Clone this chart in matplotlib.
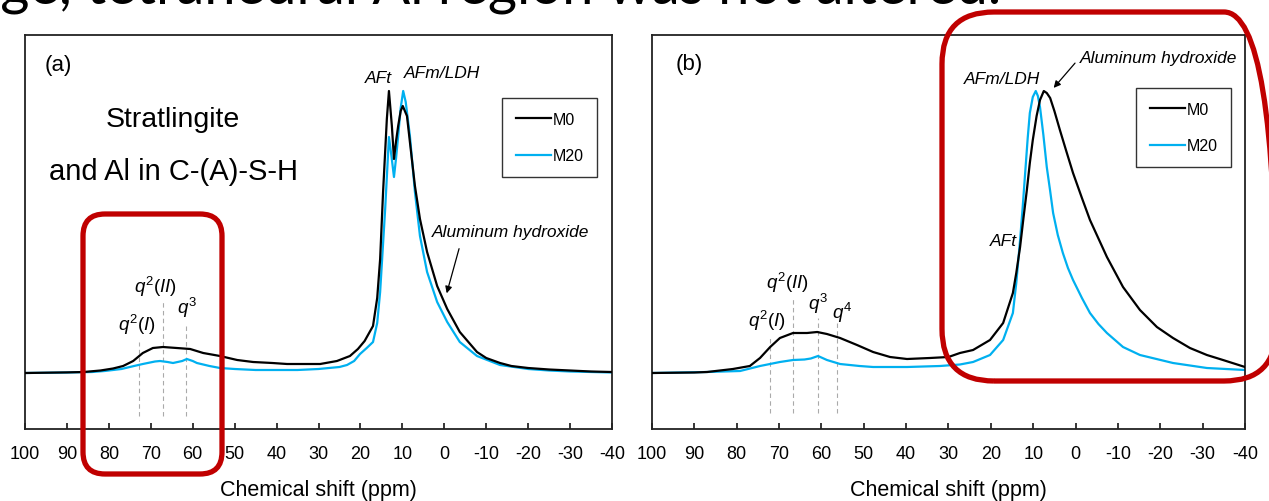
import matplotlib
matplotlib.use("Agg")
import matplotlib.pyplot as plt
from matplotlib.patches import FancyBboxPatch

# ---------------- data ----------------
xticks = [100, 90, 80, 70, 60, 50, 40, 30, 20, 10, 0, -10, -20, -30, -40]
xtick_labels = ["100", "90", "80", "70", "60", "50", "40", "30", "20", "10", "0",
                "-10", "-20", "-30", "-40"]

a_m0_ppm = [100, 95, 90, 86, 82, 79, 76.6, 74.2, 71.9, 69.5, 67.1, 63.8, 60.6, 57.5, 53.5,
            49.4, 45.6, 41, 37.5, 33, 29.6, 25.6, 22.5, 20.6, 19, 17, 16, 15.3, 14.6, 13.7,
            13.2, 12.5, 12.0, 11.5, 11.0, 10.4, 9.9, 8.9, 8.2, 7.0, 5.8, 4.1, 1.7, -0.7,
            -3.7, -7.8, -10, -13.3, -16, -20, -25, -30, -35, -40]
a_m0_int = [0, 0.3, 0.6, 1, 2.5, 4.5, 7, 12, 20, 25, 26, 25, 24, 20, 17,
            13, 11, 10, 9, 9, 9, 12, 17, 24, 32, 47, 75, 114, 181, 254,
            282, 247, 214, 232, 247, 262, 267, 257, 231, 187, 154, 121, 87, 64,
            41, 21, 15, 10, 7, 5, 3.5, 2.5, 1.5, 1]

a_m20_ppm = [100, 90, 84, 81, 77, 74, 71.9, 69, 67.8, 66, 64.7, 62.5, 61.4, 60, 59, 56,
             53.5, 50, 45, 40, 35, 30, 25, 23.2, 21.5, 20.1, 18.5, 17, 16, 15.3, 14.1,
             13.2, 12.6, 12.0, 11.5, 11.0, 10.4, 9.8, 9.2, 8.2, 7.0, 5.8, 4.1, 1.7, -0.7,
             -3.7, -7.8, -13.3, -20, -25, -30, -35, -40]
a_m20_int = [0, 0.5, 1, 2, 4, 7, 9, 11.5, 12, 11, 10, 12, 14, 12, 10, 7,
             5, 4, 3, 3, 3, 4, 6, 8, 12, 19, 25, 31, 50, 81, 164,
             236, 217, 196, 215, 237, 265, 282, 271, 237, 181, 137, 101, 71, 51,
             31, 17, 8, 4, 2.5, 1.5, 1, 0.5]

b_m0_ppm = [100, 90, 87, 80.9, 76.9, 74.5, 72.1, 69.8, 66.7, 63.4, 61, 58.7, 55.6, 51.6,
            47.8, 43.8, 39.8, 34.4, 30, 27.3, 24.2, 20.2, 17.1, 14.8, 14, 13.1, 12.3, 11.5,
            10.8, 10.1, 9.2, 8.4, 7.5, 6.8, 6.0, 5.0, 3.7, 2.2, 0.6, -1.5, -3.4, -7.4,
            -11.2, -15.2, -19.2, -23, -27, -31, -34.8, -40]
b_m0_int = [0, 0.5, 1, 4, 7, 15, 26, 35, 40, 40, 41, 39, 35, 28,
            21, 16, 14, 15, 16, 20, 23, 33, 50, 80, 100, 126, 155, 183,
            210, 233, 257, 273, 282, 280, 275, 262, 243, 222, 200, 175, 153, 116,
            86, 63, 46, 35, 25, 18, 13, 6]

b_m20_ppm = [100, 87, 79.2, 74.5, 69.8, 66.7, 64, 62.5, 60.8, 58.7, 55.6, 51, 47.8, 39.8,
             32, 27.3, 24.2, 20.2, 17.1, 14.8, 14, 13.1, 12.5, 11.9, 11.3, 10.8, 10.1, 9.4,
             8.9, 8.4, 7.6, 6.8, 6.0, 5.3, 4.2, 3.0, 1.8, 0.6, -1.5, -3.4, -5.4, -7.4,
             -11.2, -15.2, -23, -31, -40]
b_m20_int = [0, 1, 2, 7, 11, 13, 13.5, 14.5, 17, 13, 9, 7, 6, 6,
             7, 8.5, 11, 18, 33, 60, 90, 133, 165, 200, 235, 260, 276, 282,
             277, 266, 238, 206, 182, 160, 138, 120, 105, 93, 75, 60, 49, 40,
             26, 18, 10, 5, 3]

# q-site markers (label, ppm, top of dashed guide)
a_q_labels = [r"$\mathit{q^{2}(I)}$", r"$\mathit{q^{2}(II)}$", r"$\mathit{q^{3}}$"]
a_q_ppm = [72.8, 67.1, 61.6]
a_q_top = [31, 72, 49]
b_q_labels = [r"$\mathit{q^{2}(I)}$", r"$\mathit{q^{2}(II)}$", r"$\mathit{q^{3}}$", r"$\mathit{q^{4}}$"]
b_q_ppm = [72.1, 66.7, 60.8, 56.3]
b_q_top = [36, 76, 55, 50]

series_names = ["M0", "M20"]
colors = ["#000000", "#00B0F0"]

# ---------------- style ----------------
SANS = ["Liberation Sans", "DejaVu Sans"]
plt.rcParams["font.family"] = SANS
plt.rcParams["axes.unicode_minus"] = False
plt.rcParams["mathtext.fontset"] = "custom"
plt.rcParams["mathtext.it"] = "Liberation Sans:italic"
plt.rcParams["mathtext.rm"] = "Liberation Sans"

W, H = 1269, 502
fig = plt.figure(figsize=(W / 100, H / 100), dpi=100)


def fx(px):
    return px / W


def fy(py):
    return 1 - py / H


axA = fig.add_axes([fx(25), fy(430), fx(612) - fx(25), fy(36) - fy(430)])
axB = fig.add_axes([fx(652), fy(430), fx(1245) - fx(652), fy(36) - fy(430)])

for ax in (axA, axB):
    ax.set_xlim(100, -40)
    ax.set_ylim(-56, 338)
    ax.set_yticks([])
    ax.set_xticks(xticks)
    ax.set_xticklabels(xtick_labels, fontsize=13)
    ax.tick_params(axis="x", direction="in", length=4.5, width=1.1, pad=11.5, colors="black")
    for s in ax.spines.values():
        s.set_linewidth(1.3)
        s.set_color("#222222")
    ax.set_xlabel("Chemical shift (ppm)", fontsize=15.5, labelpad=12)

# curves
axA.plot(a_m0_ppm, a_m0_int, color=colors[0], lw=1.6, label=series_names[0], zorder=3)
axA.plot(a_m20_ppm, a_m20_int, color=colors[1], lw=1.6, label=series_names[1], zorder=2)
axB.plot(b_m0_ppm, b_m0_int, color=colors[0], lw=1.6, label=series_names[0], zorder=3)
axB.plot(b_m20_ppm, b_m20_int, color=colors[1], lw=1.6, label=series_names[1], zorder=2)

# dashed guides + q labels
for ax, ppms, tops, bottom in ((axA, a_q_ppm, a_q_top, -43), (axB, b_q_ppm, b_q_top, -40)):
    for p, t in zip(ppms, tops):
        ax.plot([p, p], [bottom, t], color="#aaaaaa", lw=0.8, ls=(0, (4, 3)), zorder=1)

for lab, (xp, yp) in zip(a_q_labels, [(73.3, 49), (69.0, 87), (61.4, 66)]):
    axA.text(xp, yp, lab, fontsize=13.5, ha="center", va="center")
for lab, (xp, yp) in zip(b_q_labels, [(72.9, 53), (68.1, 91), (60.8, 70), (55.1, 61)]):
    axB.text(xp, yp, lab, fontsize=13.5, ha="center", va="center")

# annotations panel (a)
axA.text(92.1, 309, "(a)", fontsize=16, ha="center", va="center")
axA.text(64.7, 254, "Stratlingite", fontsize=20.5, ha="center", va="center")
axA.text(64.5, 202, "and Al in C-(A)-S-H", fontsize=21, ha="center", va="center")
axA.text(15.6, 296, "AFt", fontsize=12.5, style="italic", ha="center", va="center")
axA.text(0.55, 301, "AFm/LDH", fontsize=12.5, style="italic", ha="center", va="center")
axA.text(-15.7, 142, "Aluminum hydroxide", fontsize=12.5, style="italic", ha="center", va="center")
axA.annotate("", xy=(-0.4, 77), xytext=(-3.7, 127),
             arrowprops=dict(arrowstyle="-|>", color="black", lw=0.9, mutation_scale=10))

# annotations panel (b)
axB.text(91.3, 310, "(b)", fontsize=16, ha="center", va="center")
axB.text(17.4, 295, "AFm/LDH", fontsize=12.5, style="italic", ha="center", va="center")
axB.text(-19.5, 316, "Aluminum hydroxide", fontsize=12.5, style="italic", ha="center", va="center")
axB.text(17.1, 133, "AFt", fontsize=12.5, style="italic", ha="center", va="center")
axB.annotate("", xy=(5.6, 283), xytext=(-0.3, 312),
             arrowprops=dict(arrowstyle="-|>", color="black", lw=0.9, mutation_scale=10))

# legends
for ax, anchor in ((axA, (0.9744, 0.840)), (axB, (0.9764, 0.865))):
    leg = ax.legend(loc="upper right", bbox_to_anchor=anchor, fontsize=11.5,
                    frameon=True, fancybox=False, edgecolor="black",
                    handlelength=2.2, handletextpad=0.1, labelspacing=1.35,
                    borderpad=0.85, borderaxespad=0)
    leg.get_frame().set_linewidth(1.0)
    for ln in leg.get_lines():
        ln.set_linewidth(1.6)

# red rounded highlight boxes (figure pixels -> inches)
red = "#C00000"


def red_box(x0, y0, x1, y1, r):
    p = FancyBboxPatch((x0 / 100, (H - y1) / 100), (x1 - x0) / 100, (y1 - y0) / 100,
                       boxstyle=f"round,pad=0,rounding_size={r / 100}",
                       transform=fig.dpi_scale_trans, fill=False, edgecolor=red,
                       linewidth=3.8, zorder=20)
    fig.add_artist(p)


red_box(83, 215, 222, 475, 22)
red_box(942, 13, 1276, 382, 52)

# cropped slide caption at the very top
cap = fig.text(fx(1001), fy(3), "nge, tetrahedral Al region was not altered.",
               fontsize=30, family=["Lato", "DejaVu Sans"], ha="right", va="baseline")
fig.canvas.draw()
bb = cap.get_window_extent()
cap.set_fontsize(30 * 1031 / bb.width)

fig.savefig("out.png", dpi=100)
